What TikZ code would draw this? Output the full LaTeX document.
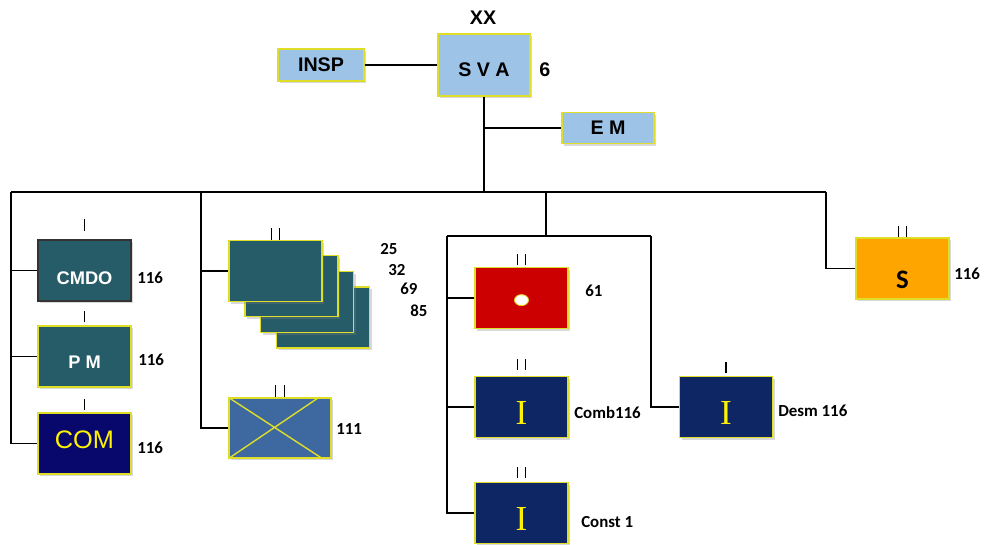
\documentclass[tikz,border=0pt]{standalone}
\usepackage{fontspec}
\setmainfont{Liberation Sans}
\newfontfamily\calfont{Carlito}
\newfontfamily\serfont{Liberation Serif}
\usetikzlibrary{shadows}

\definecolor{svablue}{RGB}{157,195,230}
\definecolor{tealbox}{RGB}{38,92,104}
\definecolor{navybox}{RGB}{14,38,100}
\definecolor{comblue}{RGB}{8,8,108}
\definecolor{redbox}{RGB}{204,0,0}
\definecolor{orangebox}{RGB}{255,165,0}
\definecolor{crossblue}{RGB}{62,104,160}
\definecolor{edgeyellow}{RGB}{222,222,40}

% text placed with its baseline a given distance from the box centre
\newcommand{\boxtext}[2]{\raisebox{#1}[0pt][0pt]{#2}}

\tikzset{
  unit/.style={draw=edgeyellow, line width=1pt, inner sep=0pt,
    minimum width=2.325cm, minimum height=1.525cm,
    drop shadow={opacity=0.3, shadow xshift=1.5pt, shadow yshift=-1.5pt}},
  hqbox/.style={unit, fill=svablue, font=\bfseries\fontsize{14}{14}\selectfont},
  tealunit/.style={unit, fill=tealbox, text=white, font=\bfseries\fontsize{13}{13}\selectfont},
  infunit/.style={unit, fill=navybox, text=yellow, font=\serfont\fontsize{25}{25}\selectfont},
  numlbl/.style={anchor=west, inner sep=0pt, font=\calfont\bfseries\fontsize{12}{12}\selectfont},
  link/.style={line width=0.9pt},
  tick/.style={line width=0.9pt}
}

\begin{document}
\begin{tikzpicture}[x=0.025cm, y=-0.025cm]
  \useasboundingbox (0,0) rectangle (986,545);

  % Command level
  \node[hqbox, minimum width=2.3cm, minimum height=1.55cm] (sva) at (484,65) {\boxtext{-8.5pt}{S V A}};
  \node[font=\bfseries\fontsize{14}{14}\selectfont] (xx) at (483,18) {XX};
  \node[anchor=west, inner sep=0pt, font=\bfseries\fontsize{14}{14}\selectfont] (svanum) at (539,70) {6};
  \node[hqbox, minimum width=2.15cm, minimum height=0.8cm] (insp) at (321,65) {INSP};
  \node[hqbox, minimum width=2.3cm, minimum height=0.78cm] (em) at (608,128) {E M};

  \draw[link] (insp) -- (sva);
  \coordinate (trunkC) at (484,192);
  \draw[link] (sva.south) -- (trunkC);
  \draw[link] (sva.south |- em) -- (em.west);

  % Main trunk
  \coordinate (trunkL) at (11,192);
  \coordinate (trunkR) at (826,192);
  \draw[link] (trunkL) -- (trunkR);

  % First column
  \node[tealunit, draw=black!80] (cmdo) at (84.5,270.5) {\boxtext{-9.6pt}{CMDO}};
  \node[tealunit] (pm) at (84.5,356.5) {\boxtext{-8.6pt}{P M}};
  \node[unit, fill=comblue, text=yellow, font=\fontsize{18}{18}\selectfont] (com) at (84.5,443.5) {\boxtext{-3.5pt}{COM}};
  \node[numlbl] (cmdonum) at (137,278) {116};
  \node[numlbl] (pmnum) at (138,360) {116};
  \node[numlbl] (comnum) at (137,448) {116};
  \draw[tick] ([yshift=6pt]cmdo.north) -- ++(0,-12);
  \draw[tick] ([yshift=2pt]pm.north) -- ++(0,-11);
  \draw[tick] ([yshift=1.5pt]com.north) -- ++(0,-11);
  \draw[link] (trunkL) |- (com.west);
  \draw[link] (trunkL |- cmdo) -- (cmdo.west);
  \draw[link] (trunkL |- pm) -- (pm.west);

  % Second column
  \coordinate (col2) at (201,192);
  \node[tealunit] (stack4) at (323,317.5) {};
  \node[tealunit] (stack3) at (307,302) {};
  \node[tealunit] (stack2) at (291.5,286) {};
  \node[tealunit] (stack1) at (275.5,271) {};
  \node[numlbl] (num25) at (380,249) {25};
  \node[numlbl] (num32) at (388,270) {32};
  \node[numlbl] (num69) at (400,289) {69};
  \node[numlbl] (num85) at (410,311) {85};
  \draw[tick] ([xshift=-3pt]stack1.north) -- ++(0,-12) ([xshift=3pt]stack1.north) -- ++(0,-12);
  \node[unit, fill=crossblue, minimum width=2.55cm, minimum height=1.5cm] (cross) at (280,428) {};
  \draw[edgeyellow, line width=1pt] (cross.north west) -- ([xshift=-6.5pt]cross.south east)
    ([xshift=-9pt]cross.north east) -- (cross.south west);
  \node[numlbl] (crossnum) at (336,429) {111};
  \draw[tick] ([xshift=-3pt]cross.north) -- ++(0,-12) ([xshift=3pt]cross.north) -- ++(0,-12);
  \draw[link] (col2) |- (cross.west);
  \draw[link] (col2 |- stack1) -- (stack1.west);

  % Third column
  \coordinate (col3top) at (546,192);
  \coordinate (col3bar) at (546,236);
  \coordinate (col3L) at (447,236);
  \coordinate (col3R) at (651,236);
  \node[unit, fill=redbox] (red) at (521.5,298) {};
  \filldraw[fill=white, draw=yellow!85!black, line width=0.6pt] ([yshift=-1.5pt]red.center) ellipse [x radius=7, y radius=5.5];
  \node[infunit] (comb) at (521.5,407) {\boxtext{-12.3pt}{I}};
  \node[infunit] (const) at (521.5,513) {\boxtext{-12.3pt}{I}};
  \node[infunit] (desm) at (726,407) {\boxtext{-12.3pt}{I}};
  \node[numlbl] (rednum) at (585,291) {61};
  \node[numlbl] (combnum) at (574,413) {Comb116};
  \node[numlbl] (constnum) at (581,522) {Const 1};
  \node[numlbl] (desmnum) at (778,411) {Desm 116};
  \draw[tick] ([xshift=-3pt,yshift=1pt]red.north) -- ++(0,-11) ([xshift=3pt,yshift=1pt]red.north) -- ++(0,-11);
  \draw[tick] ([xshift=-3pt,yshift=4pt]comb.north) -- ++(0,-11) ([xshift=3pt,yshift=4pt]comb.north) -- ++(0,-11);
  \draw[tick] ([xshift=-3pt,yshift=3pt]const.north) -- ++(0,-11) ([xshift=3pt,yshift=3pt]const.north) -- ++(0,-11);
  \draw[tick] ([yshift=2pt]desm.north) -- ++(0,-11);
  \draw[link] (col3top) -- (col3bar);
  \draw[link] (col3L) -- (col3R);
  \draw[link] (col3L) |- (const.west);
  \draw[link] (col3L |- red) -- (red.west);
  \draw[link] (col3L |- comb) -- (comb.west);
  \draw[link] (col3R) |- (desm.west);

  % Fourth column
  \coordinate (col4) at (826,192);
  \node[unit, fill=orangebox, font=\calfont\bfseries\fontsize{19}{19}\selectfont] (sbox) at (902.5,268.5) {\boxtext{-14pt}{S}};
  \node[numlbl] (snum) at (954,274) {116};
  \draw[tick] ([xshift=-3pt]sbox.north) -- ++(0,-11) ([xshift=3pt]sbox.north) -- ++(0,-11);
  \draw[link] (col4) |- (sbox.west);
\end{tikzpicture}
\end{document}
